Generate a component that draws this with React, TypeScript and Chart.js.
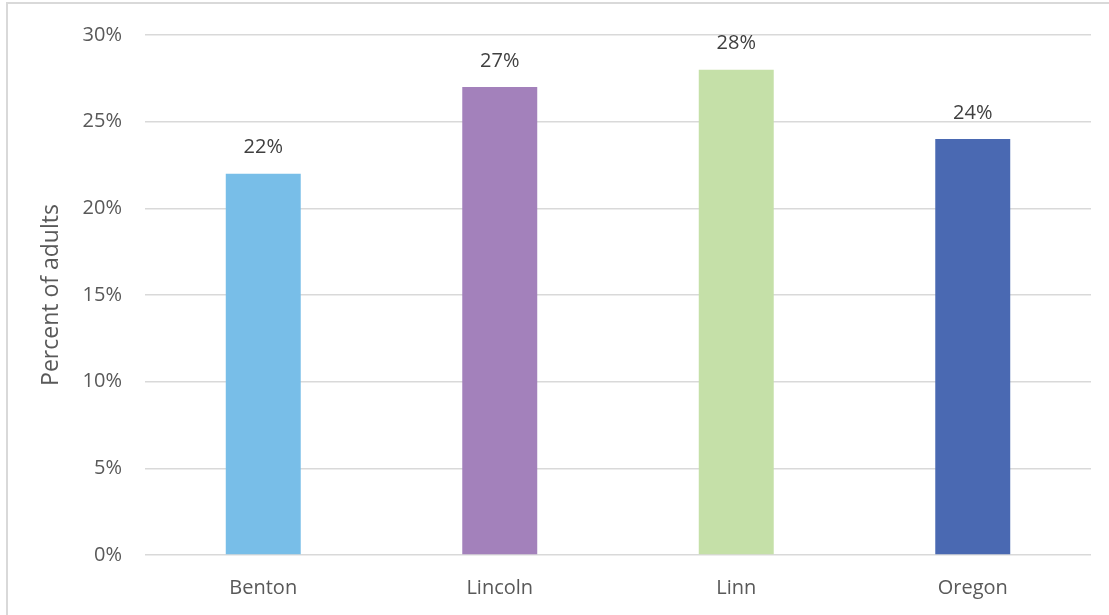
import React, { useEffect, useRef } from "react";
import { Chart, registerables } from "chart.js";

Chart.register(...registerables);

const categories = ["Benton", "Lincoln", "Linn", "Oregon"];
const values = [22, 27, 28, 24];
const barColors = ["#78BEE8", "#A381BB", "#C5E0A8", "#4A69B2"];
const yTicks = [0, 5, 10, 15, 20, 25, 30];
const yTitle = "Percent of adults";

const FONT = "'Open Sans', 'Noto Sans', sans-serif";

const dataLabelPlugin = {
  id: "dataLabels",
  afterDatasetsDraw(chart: any) {
    const ctx = chart.ctx;
    const meta = chart.getDatasetMeta(0);
    ctx.save();
    ctx.font = `20px ${FONT}`;
    ctx.fillStyle = "#404040";
    ctx.textAlign = "center";
    ctx.textBaseline = "middle";
    meta.data.forEach((bar: any, i: number) => {
      ctx.fillText(`${values[i]}%`, bar.x, bar.y - 26);
    });
    ctx.restore();
  },
};

export default function App() {
  const ref = useRef<HTMLCanvasElement | null>(null);
  useEffect(() => {
    if (!ref.current) return;
    const chart = new Chart(ref.current, {
      type: "bar",
      data: {
        labels: categories,
        datasets: [
          {
            data: values,
            backgroundColor: barColors,
            barPercentage: 0.317,
            categoryPercentage: 1,
          },
        ],
      },
      options: {
        animation: false,
        responsive: false,
        maintainAspectRatio: false,
        layout: {
          autoPadding: false,
          padding: { top: 31, right: 18, left: 0, bottom: 0 },
        },
        plugins: {
          legend: { display: false },
          tooltip: { enabled: false },
        },
        scales: {
          x: {
            grid: { display: false, drawTicks: false },
            border: { display: false },
            ticks: {
              color: "#595959",
              font: { family: FONT, size: 20 },
              padding: 21,
            },
            afterFit: (scale: any) => {
              scale.height = 60;
            },
          },
          y: {
            min: 0,
            max: 30,
            afterBuildTicks: (scale: any) => {
              scale.ticks = yTicks.map((v) => ({ value: v }));
            },
            grid: { color: "#D9D9D9", lineWidth: 1.5, drawTicks: false },
            border: { display: false },
            ticks: {
              color: "#595959",
              font: { family: FONT, size: 20 },
              padding: 23,
              callback: (v: any) => `${v}%`,
            },
            title: {
              display: true,
              text: yTitle,
              color: "#595959",
              font: { family: FONT, size: 23 },
              padding: { top: 38, bottom: 0 },
            },
            afterFit: (scale: any) => {
              scale.width = 145;
            },
          },
        },
      },
      plugins: [dataLabelPlugin],
    });
    return () => chart.destroy();
  }, []);

  return (
    <div
      style={{
        position: "absolute",
        left: 0,
        top: 0,
        width: 1109,
        height: 615,
        background: "#fff",
        overflow: "hidden",
      }}
    >
      <div
        style={{
          position: "absolute",
          left: 6,
          top: 2,
          width: 1200,
          height: 700,
          border: "2px solid #D9D9D9",
          boxSizing: "border-box",
        }}
      />
      <canvas
        ref={ref}
        width={1109}
        height={615}
        style={{ position: "absolute", left: 0, top: 0 }}
      />
    </div>
  );
}
